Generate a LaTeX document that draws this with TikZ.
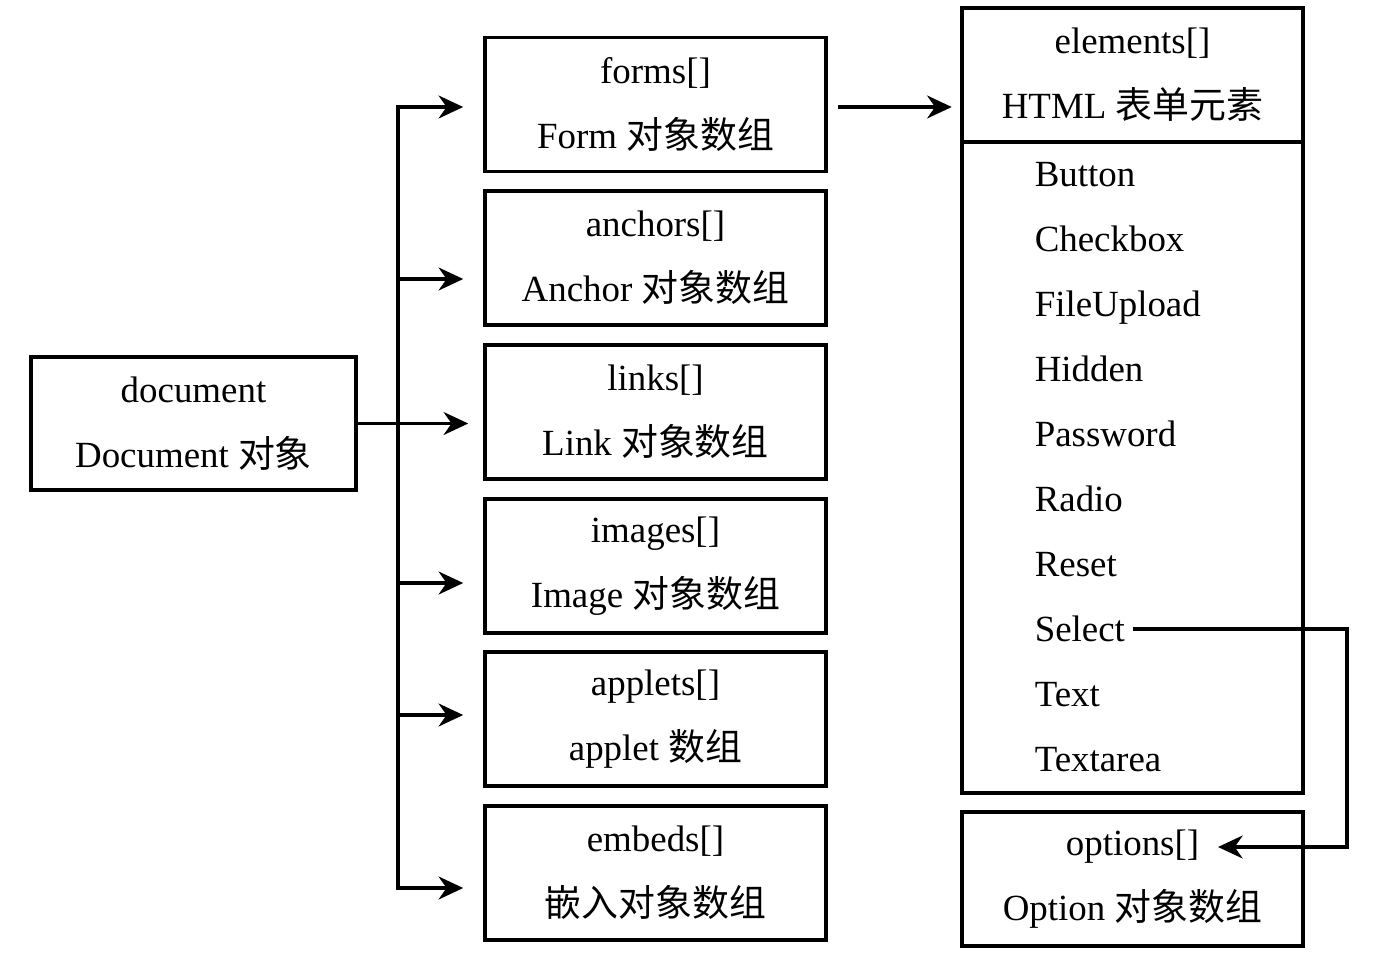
\documentclass[tikz,border=0pt]{standalone}
\usepackage{fontspec}
\setmainfont{Liberation Serif}
\newfontfamily\cjk{Noto Sans CJK SC}
\newcommand{\zh}[1]{{\cjk #1}}
\usetikzlibrary{arrows.meta,calc}

\tikzset{
  box/.style={draw,line width=2pt,minimum width=6.82cm,minimum height=2.68cm,
    inner sep=0pt,align=center,font=\fontsize{21}{37}\selectfont},
  elem/.style={anchor=base west,inner sep=0pt,font=\fontsize{21}{25}\selectfont},
}

\begin{document}
\begin{tikzpicture}[line width=2pt,>={Stealth[length=14pt,width=13pt,inset=4.5pt]}]
    \useasboundingbox (0,0) rectangle (27.56,-19.22);

    %/ Root
    \node[box,minimum width=6.5cm,minimum height=2.66cm] (document) at (3.87,-8.47)
        {document\\Document \zh{对象}};

    %/ Collections
    \foreach \name/\y/\key/\desc in {
      forms/-2.09/forms[]/Form \zh{对象数组},
      anchors/-5.16/anchors[]/Anchor \zh{对象数组},
      links/-8.24/links[]/Link \zh{对象数组},
      images/-11.32/images[]/Image \zh{对象数组},
      applets/-14.38/applets[]/applet \zh{数组},
      embeds/-17.46/embeds[]/\zh{嵌入对象数组}}
    \node[box] (\name) at (13.11,\y) {\key\\\desc};

    %/ Bus
    \coordinate (bustop) at (7.96,-2.14);
    \coordinate (busbot) at (7.96,-17.76);
    \draw (bustop) -- (busbot);
    \foreach \name/\dy in {forms/-0.05,anchors/-0.42,images/-0.34,applets/0.08,embeds/-0.30}
        \draw[<-] ([xshift=-0.4cm,yshift=\dy cm]\name.west) -- ++(-1.34,0);
    \coordinate (linksin) at ([xshift=-0.3cm]links.west);
    \draw[->] (document.east) -- (document.east -| linksin);

    %/ Form elements
    \node[box,minimum height=2.68cm] (elements) at (22.65,-1.5)
        {elements[]\\HTML \zh{表单元素}};
    \node[box,minimum height=13.02cm] (list) at (22.65,-9.35) {};
    \foreach \elem [count=\i] in {Button,Checkbox,FileUpload,Hidden,Password,
                                  Radio,Reset,Select,Text,Textarea}
        \node[elem] (\elem) at (20.66,{-3.72-(\i-1)*1.3}) {\elem};
    \draw[->] ([xshift=0.2cm,yshift=-0.05cm]forms.east) -- ++(2.28,0);

    %/ Options
    \node[box] (options) at (22.65,-17.58) {options[]\\Option \zh{对象数组}};
    \coordinate (optturn) at (26.94,-16.94);
    \coordinate (optin) at (24.36,-16.94);
    \draw[->,line width=2pt] ([xshift=0.12cm,yshift=0.24cm]Select.base east) -| (optturn) -- (optin);
\end{tikzpicture}
\end{document}
